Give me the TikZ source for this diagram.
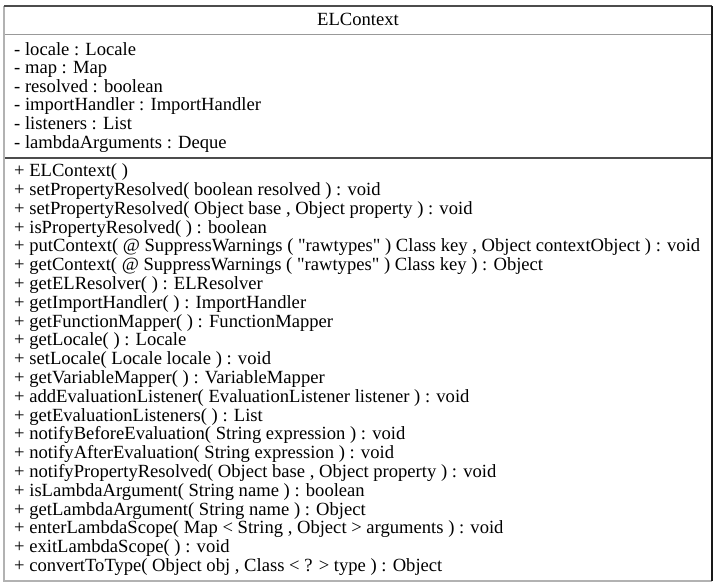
\documentclass[tikz,border=0pt]{standalone}
\usepackage{fontspec}
\setmainfont{Liberation Serif}
% raw font instance without the TeX text mapping, for straight double quotes
\font\plainquotefont="Liberation Serif" at 18.6pt
\newcommand{\dquote}{{\plainquotefont\char34}}
\begin{document}
\begin{tikzpicture}[x=1pt,y=-1pt,
  member/.style={anchor=base west, inner sep=0pt, font=\fontsize{18.6}{20}\selectfont},
  titletext/.style={anchor=base, inner sep=0pt, font=\fontsize{18.6}{20}\selectfont},
  edgelight/.style={draw=black!30, line width=1.6pt},
  edgedark/.style={draw=black!70, line width=2pt},
  edgeblack/.style={draw=black!90, line width=2pt},
  divider/.style={draw=black!40, line width=1pt},
  divstrong/.style={draw=black!70, line width=2.4pt}]
  \useasboundingbox (0,0) rectangle (717,587);
  % class box outline
  \coordinate (tl) at (4,6);
  \coordinate (tr) at (712,6);
  \coordinate (bl) at (4,581);
  \coordinate (br) at (712,581);
  \draw[edgelight] (tl) -- (bl) -- (br);
  \draw[edgedark] (tl) -- (tr);
  \draw[edgeblack] (tr) -- (br);
  % compartment dividers
  \coordinate (d1l) at (5,34.5);
  \coordinate (d1r) at (711,34.5);
  \coordinate (d2l) at (5,158);
  \coordinate (d2r) at (711,158);
  \draw[divider] (d1l) -- (d1r);
  \draw[divstrong] (d2l) -- (d2r);
  % class name
  \node[titletext] (title) at (358,25) {ELContext};
  % attributes
  \foreach \t [count=\i] in {
    {- locale : Locale},
    {- map : Map},
    {- resolved : boolean},
    {- importHandler : ImportHandler},
    {- listeners : List},
    {- lambdaArguments : Deque}}
    \node[member] (attr\i) at (14,{55+(\i-1)*18.6}) {\t};
  % operations
  \foreach \t [count=\i] in {
    {+ ELContext( )},
    {+ setPropertyResolved( boolean resolved ) : void},
    {+ setPropertyResolved( Object base , Object property ) : void},
    {+ isPropertyResolved( ) : boolean},
    {+ putContext( @ SuppressWarnings ( \dquote rawtypes\dquote{} ) Class key , Object contextObject ) : void},
    {+ getContext( @ SuppressWarnings ( \dquote rawtypes\dquote{} ) Class key ) : Object},
    {+ getELResolver( ) : ELResolver},
    {+ getImportHandler( ) : ImportHandler},
    {+ getFunctionMapper( ) : FunctionMapper},
    {+ getLocale( ) : Locale},
    {+ setLocale( Locale locale ) : void},
    {+ getVariableMapper( ) : VariableMapper},
    {+ addEvaluationListener( EvaluationListener listener ) : void},
    {+ getEvaluationListeners( ) : List},
    {+ notifyBeforeEvaluation( String expression ) : void},
    {+ notifyAfterEvaluation( String expression ) : void},
    {+ notifyPropertyResolved( Object base , Object property ) : void},
    {+ isLambdaArgument( String name ) : boolean},
    {+ getLambdaArgument( String name ) : Object},
    {+ enterLambdaScope( Map < String , Object > arguments ) : void},
    {+ exitLambdaScope( ) : void},
    {+ convertToType( Object obj , Class < ? > type ) : Object}}
    \node[member] (op\i) at (14,{176.7+(\i-1)*18.8}) {\t};
\end{tikzpicture}
\end{document}
